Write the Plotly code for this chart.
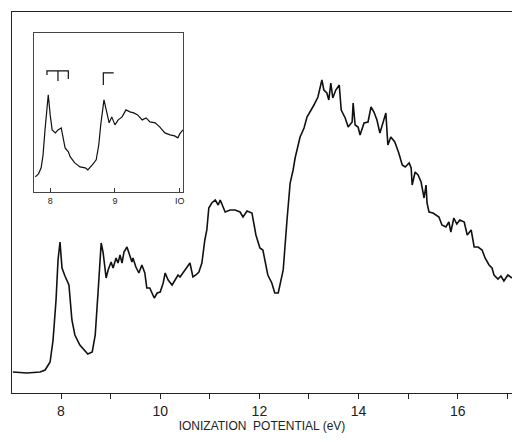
import plotly.graph_objects as go

# Main photoelectron spectrum: ionization potential (eV) vs relative intensity (arb. units)
ev_a = [7.03, 7.31, 7.58, 7.68, 7.78, 7.84, 7.90, 7.94, 7.98, 8.02, 8.08, 8.16, 8.22, 8.28, 8.38,
        8.54, 8.63, 8.69, 8.75]
int_a = [21, 20, 21, 23, 31, 53, 93, 133, 151, 125, 117, 108, 73, 58, 48, 39, 41, 58, 103]

ev_b = [8.81, 8.85, 8.91, 8.95, 9.01, 9.05, 9.11, 9.15, 9.19, 9.23, 9.27, 9.33, 9.39, 9.43, 9.45,
        9.51, 9.57, 9.63, 9.69, 9.73, 9.79, 9.83, 9.88, 9.94, 10.00, 10.06, 10.10, 10.16, 10.24,
        10.30, 10.36, 10.40, 10.46, 10.54, 10.60, 10.66, 10.72, 10.78, 10.84, 10.90, 10.94]
int_b = [150, 140, 115, 123, 131, 125, 135, 130, 138, 130, 141, 146, 138, 131, 135, 126, 120, 128,
         120, 105, 105, 101, 95, 100, 101, 110, 120, 113, 108, 113, 118, 116, 120, 125, 130, 116,
         118, 121, 130, 153, 163]

ev_c = [10.98, 11.04, 11.11, 11.17, 11.21, 11.31, 11.41, 11.51, 11.61, 11.67, 11.75, 11.85, 11.93,
        12.01, 12.07, 12.17, 12.25, 12.31, 12.38, 12.48]
int_c = [185, 190, 193, 188, 193, 181, 183, 183, 181, 176, 182, 180, 158, 145, 143, 118, 110, 100,
         100, 123]

ev_d = [12.56, 12.62, 12.68, 12.72, 12.82, 12.90, 12.96, 13.02, 13.10, 13.18, 13.26, 13.30, 13.36,
        13.40, 13.44, 13.48, 13.54, 13.61, 13.65, 13.73, 13.79, 13.87, 13.89, 13.93, 13.99, 14.03,
        14.11, 14.19, 14.25, 14.31, 14.37, 14.43, 14.49, 14.55, 14.59, 14.65, 14.73, 14.81]
int_d = [175, 210, 223, 235, 256, 265, 276, 281, 288, 296, 313, 303, 300, 293, 310, 295, 303, 308,
         283, 275, 266, 271, 290, 268, 266, 258, 270, 271, 286, 281, 273, 260, 270, 280, 248, 256,
         251, 240]

ev_e = [14.88, 14.94, 15.02, 15.06, 15.08, 15.14, 15.20, 15.26, 15.32, 15.36, 15.38, 15.42, 15.50,
        15.62, 15.68, 15.76, 15.82, 15.86, 15.92, 15.98, 16.04, 16.13, 16.19, 16.27, 16.33, 16.41,
        16.49, 16.55, 16.63, 16.69, 16.73, 16.81, 16.87, 16.93, 17.01, 17.09]
int_e = [228, 226, 230, 225, 208, 221, 218, 211, 195, 208, 190, 181, 180, 176, 168, 166, 171, 161,
         175, 169, 173, 171, 158, 163, 146, 146, 143, 135, 128, 125, 118, 114, 117, 112, 118, 115]

main_ev = ev_a + ev_b + ev_c + ev_d + ev_e
main_int = int_a + int_b + int_c + int_d + int_e

# Inset: expanded view of the first two bands
inset_ev = [7.77, 7.82, 7.86, 7.89, 7.92, 7.95, 7.97, 8.00, 8.03, 8.08, 8.12, 8.17, 8.20, 8.23, 8.28,
            8.31, 8.38, 8.46, 8.54, 8.58, 8.65, 8.71, 8.75, 8.78, 8.83, 8.86, 8.91, 8.95, 9.00, 9.05,
            9.11, 9.17, 9.23, 9.29, 9.35, 9.42, 9.48, 9.54, 9.62, 9.69, 9.77, 9.85, 9.92, 9.97, 10.00, 10.05]
inset_int = [15, 18, 24, 37, 62, 87, 97, 77, 62, 59, 62, 64, 55, 44, 40,
             35, 29, 25, 24, 22, 27, 32, 47, 67, 92, 84, 69, 75, 67, 72,
             75, 82, 80, 79, 77, 72, 74, 70, 69, 65, 59, 57, 56, 54, 58, 62]

# Vibrational progression brackets in the inset
bracket1_ev = [7.95, 7.95, 8.28, 8.28]
bracket1_int = [117, 121, 121, 113]
bracket1_tick_ev = [8.12, 8.12]
bracket1_tick_int = [121, 111]
bracket2_ev = [8.82, 8.82, 8.98]
bracket2_int = [107, 119, 119]

main_tickvals = [8, 9, 10, 11, 12, 13, 14, 15, 16, 17]
main_ticktext = ["8", "", "10", "", "12", "", "14", "", "16", ""]
inset_tickvals = [8, 9, 10]
inset_ticktext = ["8", "9", "IO"]

line_col = "#111111"
fig = go.Figure()
fig.add_trace(go.Scatter(x=main_ev, y=main_int, mode="lines",
                         line=dict(color=line_col, width=1.6), xaxis="x", yaxis="y"))
fig.add_trace(go.Scatter(x=inset_ev, y=inset_int, mode="lines",
                         line=dict(color=line_col, width=1.2), xaxis="x2", yaxis="y2"))
for bx, by in [(bracket1_ev, bracket1_int), (bracket1_tick_ev, bracket1_tick_int),
               (bracket2_ev, bracket2_int)]:
    fig.add_trace(go.Scatter(x=bx, y=by, mode="lines",
                             line=dict(color=line_col, width=1.2), xaxis="x2", yaxis="y2"))

font_fam = "Liberation Sans, Arial, sans-serif"
fig.update_layout(
    width=513, height=442,
    margin=dict(l=12, r=1, t=12, b=49, autoexpand=False),
    paper_bgcolor="white", plot_bgcolor="white",
    showlegend=False,
    font=dict(family=font_fam, color="#222222"),
    xaxis=dict(range=[7.012, 17.093], tickvals=main_tickvals, ticktext=main_ticktext,
               ticks="outside", ticklen=5, tickwidth=1, tickcolor="#222",
               showline=True, linecolor="#222", linewidth=1.2, mirror=True,
               showgrid=False, zeroline=False, automargin=False,
               tickfont=dict(size=14, color="#222"),
               title=dict(text="IONIZATION  POTENTIAL (eV)", font=dict(size=12, color="#222"),
                          standoff=3)),
    yaxis=dict(range=[0, 381], showline=True, linecolor="#222", linewidth=1.2,
               showticklabels=False, ticks="", showgrid=False, zeroline=False),
    xaxis2=dict(domain=[0.044, 0.342], anchor="y2", range=[7.75, 10.05],
                tickvals=inset_tickvals, ticktext=inset_ticktext,
                ticks="inside", ticklen=4, tickcolor="#333",
                showline=True, linecolor="#444", linewidth=1, mirror=True,
                showgrid=False, zeroline=False, tickfont=dict(size=9, color="#222")),
    yaxis2=dict(domain=[0.528, 0.945], anchor="x2", range=[0, 159],
                showline=True, linecolor="#444", linewidth=1, mirror=True,
                showticklabels=False, ticks="", showgrid=False, zeroline=False),
)

# Remove the default page margin / scrollbars so the figure fills the window exactly.
page_fix = ("document.documentElement.style.overflow='hidden';"
            "document.body.style.margin='0';document.body.style.overflow='hidden';")
fig.write_html("out.html", post_script=page_fix, config={"displayModeBar": False})
